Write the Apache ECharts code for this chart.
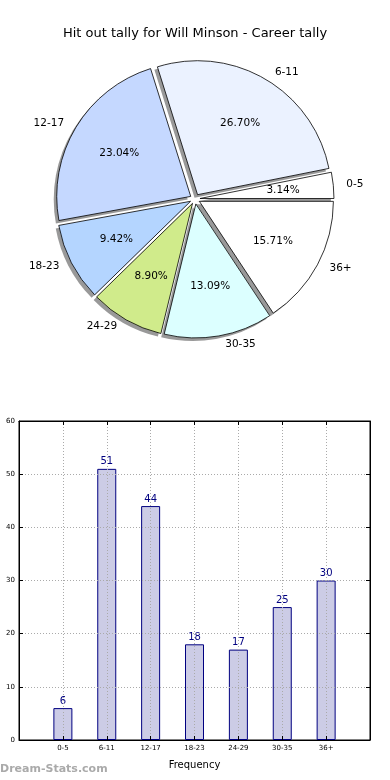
<!DOCTYPE html>
<html><head><meta charset="utf-8">
<script src="https://cdn.jsdelivr.net/npm/echarts@6/dist/echarts.min.js"></script>
<style>html,body{margin:0;padding:0;background:#fff}#c{width:390px;height:780px}</style>
</head><body><div id="c"></div>
<script>
const categories = ['0-5','6-11','12-17','18-23','24-29','30-35','36+'];
const tallies = [6,51,44,18,17,25,30];
const sliceColors = ['#ffffff','#ebf2ff','#c5d8ff','#b4d5ff','#d0eb8b','#dcffff','#ffffff'];
const yTicks = [0,10,20,30,40,50,60];
const titleText = 'Hit out tally for Will Minson - Career tally';
const xAxisName = 'Frequency';
const watermark = 'Dream-Stats.com';

const total = tallies.reduce((a,b)=>a+b,0);
const F = '"DejaVu Sans", sans-serif';
const C = [195,199], R = 134, EX = 5;

function items(extra){
  return categories.map((c,i)=>Object.assign({name:c, value:tallies[i], selected:true}, extra?extra(i):{}));
}
const pieBase = {
  type:'pie', startAngle:0, clockwise:false, selectedMode:'multiple', selectedOffset:EX,
  avoidLabelOverlap:false, animation:false, emphasis:{disabled:true}, tooltip:{show:false}
};
const tickStyle = {show:true, inside:true, length:4, lineStyle:{color:'#000'}};
const lineStyleAxis = {show:true, onZero:false, lineStyle:{color:'#000'}};
const gridLine = {show:true, lineStyle:{color:'#aaaaaa', type:[1,2], width:1}};

const chart = echarts.init(document.getElementById('c'), null, {renderer:'canvas'});
chart.setOption({
  backgroundColor:'#fff',
  animation:false,
  title:{text:titleText, left:'center', top:22, textStyle:{fontFamily:F, fontSize:13, fontWeight:'normal', color:'#000'}},
  graphic:[{type:'text', left:0, top:764, style:{text:watermark, font:'bold 11px '+F, fill:'#aaaaaa'}}],
  grid:{left:19, top:421, width:351, height:319, show:true, borderColor:'#000', borderWidth:1, backgroundColor:'transparent'},
  xAxis:[{
    type:'value', min:-1, max:7, interval:1, z:3,
    name:xAxisName, nameLocation:'middle', nameGap:20, nameTextStyle:{fontFamily:F, fontSize:10, color:'#000'},
    axisLine:lineStyleAxis, axisTick:tickStyle,
    axisLabel:{fontFamily:F, fontSize:7, color:'#000', margin:5, formatter:v=>categories[v]!==undefined?categories[v]:''},
    splitLine:gridLine
  },{
    type:'value', position:'top', min:-1, max:7, interval:1, z:3,
    axisLine:lineStyleAxis, axisTick:tickStyle, axisLabel:{show:false}, splitLine:{show:false}
  }],
  yAxis:[{
    type:'value', min:yTicks[0], max:yTicks[yTicks.length-1], interval:yTicks[1]-yTicks[0], z:3,
    axisLine:lineStyleAxis, axisTick:tickStyle,
    axisLabel:{fontFamily:F, fontSize:7, color:'#000', margin:4},
    splitLine:gridLine
  },{
    type:'value', position:'right', min:yTicks[0], max:yTicks[yTicks.length-1], interval:yTicks[1]-yTicks[0], z:3,
    axisLine:lineStyleAxis, axisTick:tickStyle, axisLabel:{show:false}, splitLine:{show:false}
  }],
  series:[
    Object.assign({}, pieBase, {
      name:'shadow', center:[C[0]-3, C[1]+3], radius:R, silent:true, z:1,
      label:{show:false}, labelLine:{show:false},
      itemStyle:{color:'#999999', borderWidth:0},
      data:items()
    }),
    Object.assign({}, pieBase, {
      name:'tally', center:C, radius:R, z:2,
      label:{show:true, position:'outside', fontFamily:F, fontSize:10.5, color:'#000', verticalAlign:'middle'},
      labelLine:{show:false, length:8, length2:0},
      itemStyle:{borderColor:'#000', borderWidth:0.8},
      data:items(i=>({itemStyle:{color:sliceColors[i]}}))
    }),
    Object.assign({}, pieBase, {
      name:'pct', center:C, radius:[Math.round(R*0.2), R], silent:true, z:3,
      label:{show:true, position:'inside', fontFamily:F, fontSize:10.5, color:'#000',
        formatter:p=>(p.value/total*100).toFixed(2)+'%'},
      labelLine:{show:false},
      itemStyle:{color:'rgba(0,0,0,0)', borderWidth:0},
      data:items()
    }),
    {
      type:'bar', xAxisIndex:0, yAxisIndex:0, barWidth:19, z:2,
      itemStyle:{color:'#ccccE6', borderColor:'#000080', borderWidth:1},
      label:{show:true, position:'top', distance:2, fontFamily:F, fontSize:10, color:'#000080', formatter:p=>p.value[1]},
      data:tallies.map((v,i)=>[i,v])
    }
  ]
});
</script></body></html>
